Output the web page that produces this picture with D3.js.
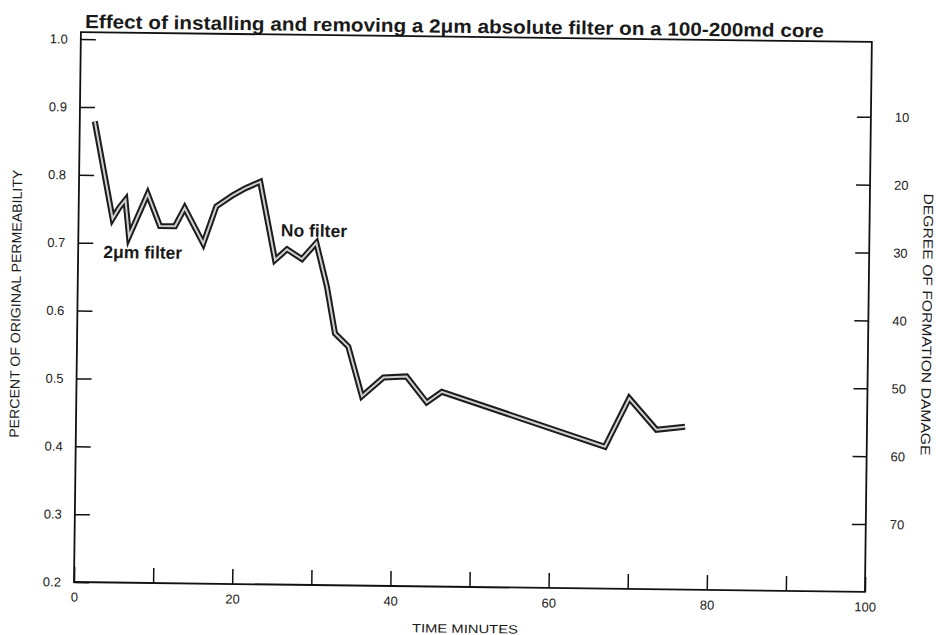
<!DOCTYPE html>
<html>
<head>
<meta charset="utf-8">
<script src="https://cdn.jsdelivr.net/npm/d3@7"></script>
<style>
  body { margin: 0; background: #fff; }
  svg { display: block; }
  text { font-family: "Liberation Sans", Arial, sans-serif; fill: #1a1a1a; }
</style>
</head>
<body>
<svg id="chart"></svg>
<script>
// Chart values
const time = [1.9, 4.3, 5.1, 5.9, 6.4, 8.7, 10.3, 12.2, 13.4, 15.8, 17.4, 19.5, 21.0, 22.9,
  24.9, 26.4, 28.3, 30.1, 31.5, 32.6, 34.3, 36.1, 38.8, 41.7, 44.3, 46.2, 66.9, 69.9, 73.4, 77.0];
const permeability = [0.879, 0.736, 0.752, 0.764, 0.710, 0.773, 0.726, 0.726, 0.753, 0.701,
  0.756, 0.773, 0.783, 0.793, 0.678, 0.694, 0.680, 0.704, 0.640, 0.571, 0.552, 0.479, 0.507,
  0.509, 0.471, 0.487, 0.409, 0.481, 0.435, 0.440];

const leftTicks = [0.2, 0.3, 0.4, 0.5, 0.6, 0.7, 0.8, 0.9, 1.0];
const rightTicks = [10, 20, 30, 40, 50, 60, 70];
const bottomTicks = [0, 10, 20, 30, 40, 50, 60, 70, 80, 90, 100];
const bottomLabels = [0, 20, 40, 60, 80, 100];

const annotations = [
  { text: "2\u03bcm filter", t: 3.2, p: 0.678 },
  { text: "No filter", t: 25.6, p: 0.713 }
];

const width = 936, height = 635;
const svg = d3.select("#chart").attr("width", width).attr("height", height);

// the scan is tilted a little clockwise, so the whole figure is drawn turned
const plotLeft = 74, plotRight = 865, plotBottom = 582, plotTop = 39, frameTop = 32;
const g = svg.append("g").attr("transform", `rotate(0.72, ${plotLeft}, ${plotBottom})`);

const x = d3.scaleLinear().domain([0, 100]).range([plotLeft, plotRight]);
const y = d3.scaleLinear().domain([0.2, 1.0]).range([plotBottom, plotTop]);
const yDamage = d3.scaleLinear().domain([0, 80]).range([plotTop, plotBottom]);

// title
g.append("text")
    .attr("x", 78)
    .attr("y", 28)
    .attr("textLength", 739)
    .attr("lengthAdjust", "spacingAndGlyphs")
    .style("font-size", "19px")
    .style("font-weight", "bold")
    .text("Effect of installing and removing a 2\u03bcm absolute filter on a 100-200md core");

// frame
g.append("path")
    .attr("d", `M${plotLeft},${frameTop}H${plotRight}V${plotBottom}H${plotLeft}Z`)
    .attr("fill", "none")
    .attr("stroke", "#111")
    .attr("stroke-width", 1.8);

// left axis
const leftAxis = d3.axisRight(y)
    .tickValues(leftTicks)
    .tickSize(15)
    .tickFormat(d3.format(".1f"));
const ga = g.append("g").attr("transform", `translate(${plotLeft},0)`).call(leftAxis);
ga.select(".domain").remove();
ga.selectAll(".tick line").attr("stroke", "#111").attr("stroke-width", 1.5);
ga.selectAll(".tick text")
    .attr("x", -13)
    .attr("text-anchor", "end")
    .style("font-size", "13px");

// right axis (degree of damage)
const rightAxis = d3.axisLeft(yDamage)
    .tickValues(rightTicks)
    .tickSize(14);
const gr = g.append("g").attr("transform", `translate(${plotRight},0)`).call(rightAxis);
gr.select(".domain").remove();
gr.selectAll(".tick line").attr("stroke", "#111").attr("stroke-width", 1.5);
gr.selectAll(".tick text")
    .attr("x", 24)
    .attr("text-anchor", "start")
    .style("font-size", "13px");

// bottom axis
const bottomAxis = d3.axisTop(x)
    .tickValues(bottomTicks)
    .tickSize(15)
    .tickFormat(d => bottomLabels.includes(d) ? d : "");
const gb = g.append("g").attr("transform", `translate(0,${plotBottom})`).call(bottomAxis);
gb.select(".domain").remove();
gb.selectAll(".tick line").attr("stroke", "#111").attr("stroke-width", 1.5);
gb.selectAll(".tick text")
    .attr("y", 15)
    .attr("dy", "0.35em")
    .style("font-size", "13px");

// axis titles
g.append("text")
    .attr("x", x(50) - 4)
    .attr("y", plotBottom + 46)
    .attr("text-anchor", "middle")
    .attr("textLength", 106)
    .attr("lengthAdjust", "spacingAndGlyphs")
    .style("font-size", "12px")
    .text("TIME  MINUTES");

g.append("text")
    .attr("transform", `translate(17,${y(0.6) - 6}) rotate(-90)`)
    .attr("text-anchor", "middle")
    .attr("textLength", 268)
    .attr("lengthAdjust", "spacingAndGlyphs")
    .style("font-size", "13.5px")
    .text("PERCENT OF ORIGINAL PERMEABILITY");

g.append("text")
    .attr("transform", `translate(919,${yDamage(40.5)}) rotate(90)`)
    .attr("text-anchor", "middle")
    .attr("textLength", 262)
    .attr("lengthAdjust", "spacingAndGlyphs")
    .style("font-size", "13.5px")
    .text("DEGREE OF FORMATION DAMAGE");

// the data line: dark casing with a pale core, like the printed double line
const points = time.map((t, i) => [t, permeability[i]]);
const line = d3.line().x(d => x(d[0])).y(d => y(d[1]));

g.append("path")
    .datum(points)
    .attr("d", line)
    .attr("fill", "none")
    .attr("stroke", "#1c1c1c")
    .attr("stroke-width", 6)
    .attr("stroke-linejoin", "miter");

g.append("path")
    .datum(points)
    .attr("d", line)
    .attr("fill", "none")
    .attr("stroke", "#cfcfcf")
    .attr("stroke-width", 2)
    .attr("stroke-linejoin", "miter");

// annotations
g.selectAll(".note")
    .data(annotations)
    .enter()
    .append("text")
    .attr("class", "note")
    .attr("x", d => x(d.t))
    .attr("y", d => y(d.p))
    .style("font-size", "17.5px")
    .style("font-weight", "bold")
    .text(d => d.text);
</script>
</body>
</html>
